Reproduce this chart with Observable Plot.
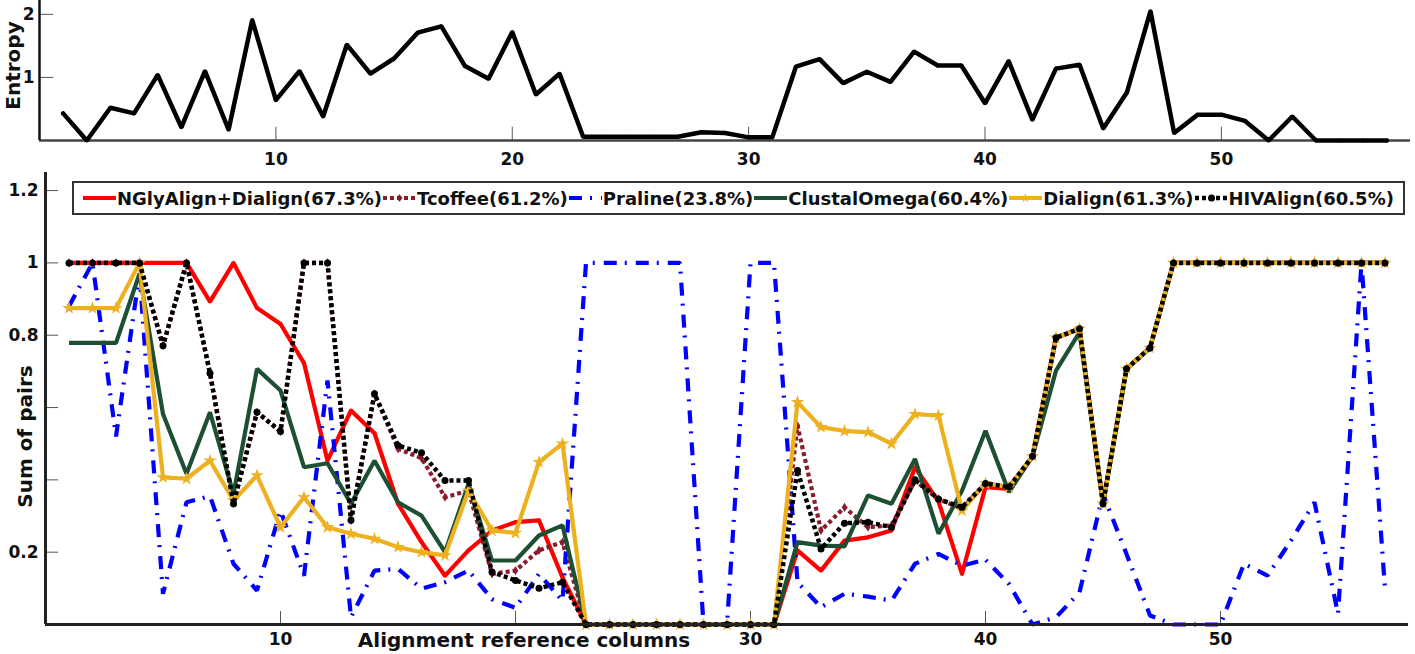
<!DOCTYPE html>
<html>
<head>
<meta charset="utf-8">
<script src="https://cdn.jsdelivr.net/npm/d3@7"></script>
<script src="https://cdn.jsdelivr.net/npm/@observablehq/plot@0.6"></script>
<style>
  body { margin: 0; background: #fff; font-family: "DejaVu Sans", sans-serif; }
  #wrap { position: relative; width: 1415px; height: 654px; overflow: hidden; background: #fff; }
  #topPanel, #botPanel { position: absolute; left: 0; }
  #topPanel { top: 0; z-index: 2; }
  #botPanel { top: 160px; z-index: 1; }
  #legend {
    position: absolute; left: 72px; top: 181px; width: 1333px; height: 34px; box-sizing: border-box;
    border: 2px solid #333; background: #fff; z-index: 3; display: flex; align-items: center;
    padding-left: 9px; font: bold 18px "DejaVu Sans", sans-serif; color: #111; white-space: nowrap;
  }
  #legend .item { display: flex; align-items: center; margin-right: 1px; }
  #legend svg { display: block; margin-right: 1px; }
  svg { overflow: visible; }
</style>
</head>
<body>
<div id="wrap">
  <div id="botPanel"></div>
  <div id="topPanel"></div>
  <div id="legend"></div>
</div>
<script>
// ---------- data ----------
const columns = [1,2,3,4,5,6,7,8,9,10,11,12,13,14,15,16,17,18,19,20,21,22,23,24,25,26,27,28,29,30,
  31,32,33,34,35,36,37,38,39,40,41,42,43,44,45,46,47,48,49,50,51,52,53,54,55,56,57];

const entropy = [0.43,0.0,0.52,0.43,1.04,0.21,1.1,0.17,1.91,0.64,1.1,0.38,1.52,1.06,1.3,1.71,1.81,1.18,0.98,1.72,
  0.73,1.06,0.06,0.06,0.06,0.06,0.06,0.13,0.12,0.05,0.05,1.17,1.29,0.91,1.09,0.93,1.41,1.19,1.19,0.59,
  1.26,0.33,1.14,1.2,0.19,0.76,2.05,0.12,0.41,0.41,0.31,0.0,0.38,0.0,0.0,0.0,0.0];

const nglyDialign = [1,1,1,1,1,1,0.893,1.0,0.875,0.831,0.723,0.453,0.592,0.529,0.334,0.228,0.135,0.205,0.26,0.283,
  0.288,0.13,0,0,0,0,0,0,0,0,0,0.205,0.149,0.232,0.241,0.26,0.435,0.34,0.14,0.38,
  0.375,0.465,0.793,0.818,0.334,0.707,0.765,1,1,1,1,1,1,1,1,1,1];

const tcoffee = [1,1,1,1,0.771,1,0.695,0.334,0.587,0.534,1,1,0.288,0.638,0.486,0.46,0.352,0.37,0.14,0.149,
  0.205,0.228,0,0,0,0,0,0,0,0,0,0.55,0.26,0.324,0.269,0.274,0.398,0.347,0.32,0.39,
  0.38,0.465,0.793,0.818,0.334,0.707,0.765,1,1,1,1,1,1,1,1,1,1];

const praline = [0.88,1.0,0.52,0.97,0.085,0.338,0.355,0.168,0.094,0.315,0.135,0.675,0.02,0.149,0.154,0.099,0.117,0.149,0.07,0.046,
  0.14,0.065,1,1,1,1,1,0,0,1,1,0.117,0.048,0.085,0.077,0.066,0.168,0.195,0.163,0.179,
  0.112,0.0,0.02,0.089,0.361,0.195,0.025,0,0,0,0.168,0.135,0.232,0.338,0.03,1.0,0.099];

const clustalOmega = [0.779,0.779,0.779,0.97,0.582,0.417,0.587,0.361,0.707,0.647,0.435,0.446,0.334,0.453,0.338,0.301,0.2,0.389,0.177,0.177,
  0.246,0.274,0,0,0,0,0,0,0,0,0,0.228,0.218,0.216,0.357,0.334,0.458,0.251,0.37,0.536,
  0.366,0.465,0.702,0.808,0.334,0.707,0.765,1,1,1,1,1,1,1,1,1,1];

const dialign = [0.875,0.875,0.875,1.0,0.407,0.403,0.453,0.343,0.412,0.269,0.352,0.269,0.251,0.237,0.214,0.2,0.191,0.37,0.26,0.253,
  0.449,0.5,0,0,0,0,0,0,0,0,0,0.615,0.546,0.535,0.532,0.5,0.582,0.578,0.315,0.39,
  0.38,0.465,0.793,0.818,0.334,0.707,0.765,1,1,1,1,1,1,1,1,1,1];

const hivAlign = [1,1,1,1,0.771,1,0.695,0.334,0.587,0.534,1,1,0.288,0.638,0.495,0.475,0.398,0.398,0.145,0.122,
  0.10,0.117,0,0,0,0,0,0,0,0,0,0.426,0.209,0.28,0.283,0.269,0.40,0.347,0.324,0.39,
  0.38,0.465,0.793,0.818,0.334,0.707,0.765,1,1,1,1,1,1,1,1,1,1];

const seriesNames = ["NGlyAlign+Dialign(67.3%)","Tcoffee(61.2%)","Praline(23.8%)","ClustalOmega(60.4%)","Dialign(61.3%)","HIVAlign(60.5%)"];

const xTicks = [10,20,30,40,50];
const yTicksBottom = [0.2,0.4,0.6,0.8,1,1.2];
const yLabelsBottom = [0.2,0.8,1,1.2];
const yTicksTop = [1,2];

// ---------- styles ----------
const styles = [
  {values: nglyDialign, stroke: "#ff0000", width: 4.2, dash: null, marker: {symbol: "circle", r: 2, fill: "#ff0000"}},
  {values: tcoffee, stroke: "#8c1a2d", width: 4.2, dash: "4,3", marker: {symbol: "diamond", r: 2.8, fill: "#8c1a2d"}},
  {values: praline, stroke: "#0000ff", width: 4.2, dash: "13,8,2,9", marker: null},
  {values: clustalOmega, stroke: "#1d4f33", width: 4.2, dash: null, marker: null},
  {values: dialign, stroke: "#edb120", width: 4.2, dash: null, marker: {symbol: "star", r: 4.2, fill: "#edb120"}},
  {values: hivAlign, stroke: "#000000", width: 4.5, dash: "4,3", marker: {symbol: "circle", r: 3.5, fill: "#000"}}
];

const toRows = vals => vals.map((v, i) => ({col: columns[i], v}));

const baseStyle = {fontFamily: "DejaVu Sans", fontSize: "17px", fontWeight: "bold", color: "#111", background: "transparent", overflow: "visible"};

// ---------- bottom panel ----------
const bottomMarks = [
  Plot.ruleX(xTicks, {y1: 0, y2: 0.036, stroke: "#555", strokeWidth: 1}),
  Plot.ruleY(yTicksBottom, {x1: 0, x2: 0.56, stroke: "#555", strokeWidth: 1}),
  Plot.axisX(xTicks, {tickSize: 0, tickPadding: 8, tickFormat: d => d === 20 ? "" : String(d), label: null}),
  Plot.axisY(yLabelsBottom, {tickSize: 0, tickPadding: 7, tickFormat: d => String(d), label: null}),
];
for (const s of styles) {
  const rows = toRows(s.values);
  bottomMarks.push(Plot.line(rows, {x: "col", y: "v", stroke: s.stroke, strokeWidth: s.width,
    strokeDasharray: s.dash, strokeLinejoin: "miter", strokeLinecap: "butt"}));
  if (s.marker) {
    bottomMarks.push(Plot.dot(rows, {x: "col", y: "v", symbol: s.marker.symbol, r: s.marker.r, fill: s.marker.fill, stroke: null}));
  }
}
bottomMarks.push(
  Plot.ruleY([0], {stroke: "#222", strokeWidth: 3}),
  Plot.ruleX([0], {stroke: "#222", strokeWidth: 3}),
  Plot.text(["Sum of pairs"], {frameAnchor: "left", textAnchor: "middle", rotate: -90, dx: -20, dy: 38, fontSize: 20, fontWeight: "bold", fill: "#111"}),
  Plot.text(["Alignment reference columns"], {frameAnchor: "bottom", textAnchor: "middle", dx: -203, dy: 16, lineAnchor: "middle", fontSize: 20, fontWeight: "bold", fill: "#111"})
);

const bottomChart = Plot.plot({
  width: 1415, height: 494,
  marginTop: 12, marginBottom: 30, marginLeft: 45, marginRight: 7,
  x: {domain: [0, 58]},
  y: {domain: [0, 1.25]},
  style: baseStyle,
  marks: bottomMarks
});
document.getElementById("botPanel").appendChild(bottomChart);

// ---------- top panel ----------
const entRows = toRows(entropy);
const topChart = Plot.plot({
  width: 1415, height: 175,
  marginTop: 0, marginBottom: 35, marginLeft: 39, marginRight: 5,
  x: {domain: [0, 58]},
  y: {domain: [0, 2.22]},
  style: baseStyle,
  marks: [
    Plot.ruleX(xTicks, {y1: 0, y2: 0.21, stroke: "#555", strokeWidth: 1}),
    Plot.ruleY(yTicksTop, {x1: 0, x2: 0.6, stroke: "#555", strokeWidth: 1}),
    Plot.axisX(xTicks, {tickSize: 0, tickPadding: 12, tickFormat: d => String(d), label: null}),
    Plot.axisY(yTicksTop, {tickSize: 0, tickPadding: 5, tickFormat: d => String(d), label: null}),
    Plot.ruleY([0], {stroke: "#444", strokeWidth: 2.5}),
    Plot.ruleX([0], {stroke: "#111", strokeWidth: 2.5}),
    Plot.line(entRows, {x: "col", y: "v", stroke: "#000", strokeWidth: 4.5, strokeLinejoin: "miter"}),
    Plot.dot(entRows, {x: "col", y: "v", r: 2, fill: "#000", stroke: null}),
    Plot.text(["Entropy"], {frameAnchor: "left", textAnchor: "middle", rotate: -90, dx: -26, dy: -5, fontSize: 20, fontWeight: "bold", fill: "#111"})
  ]
});
document.getElementById("topPanel").appendChild(topChart);

// ---------- legend ----------
const symbolPath = {
  circle: r => `<circle cx="16.5" cy="10" r="${r}"/>`,
  diamond: r => `<path d="M16.5,${10 - r * 1.3}L${16.5 + r * 1.1},10L16.5,${10 + r * 1.3}L${16.5 - r * 1.1},10Z"/>`,
  star: r => {
    const pts = [];
    for (let k = 0; k < 10; k++) {
      const a = -Math.PI / 2 + k * Math.PI / 5, rr = k % 2 ? r * 0.45 : r * 1.2;
      pts.push(`${(16.5 + rr * Math.cos(a)).toFixed(2)},${(10 + rr * Math.sin(a)).toFixed(2)}`);
    }
    return `<polygon points="${pts.join(" ")}"/>`;
  }
};
const legendBox = document.getElementById("legend");
styles.forEach((s, i) => {
  const item = document.createElement("div");
  item.className = "item";
  const marker = s.marker ? `<g fill="${s.marker.fill}">${symbolPath[s.marker.symbol](s.marker.r)}</g>` : "";
  item.innerHTML = `<svg width="33" height="20"><line x1="0" y1="10" x2="33" y2="10" stroke="${s.stroke}" stroke-width="${s.width}" ${s.dash ? `stroke-dasharray="${s.dash}"` : ""}/>${marker}</svg><span>${seriesNames[i]}</span>`;
  legendBox.appendChild(item);
});
</script>
</body>
</html>
